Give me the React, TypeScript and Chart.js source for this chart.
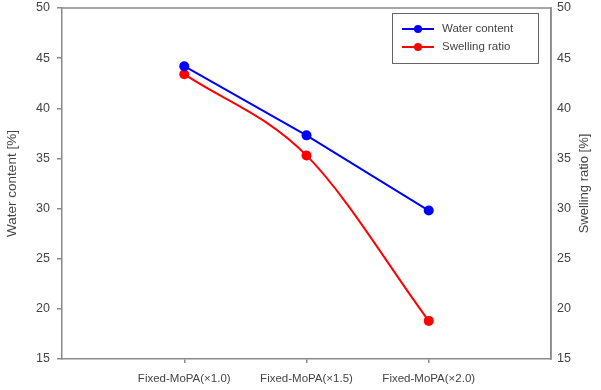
import React, { useEffect, useRef } from "react";
import { Chart, registerables } from "chart.js";

Chart.register(...registerables);

const categories = ["Fixed-MoPA(×1.0)", "Fixed-MoPA(×1.5)", "Fixed-MoPA(×2.0)"];
const waterContent = [44.2, 37.3, 29.8];
const swellingRatio = [43.4, 35.3, 18.8];
const yTicks = [15, 20, 25, 30, 35, 40, 45, 50];
const rightTitle = "Swelling ratio [%]";

const FONT = "'Liberation Sans', Arial, sans-serif";
const AXIS = "#8a8a8a";
const TXT = "#444";

const framePlugin = {
  id: "frame",
  afterDraw(chart: any) {
    const { ctx, chartArea: a } = chart;
    ctx.save();
    ctx.strokeStyle = AXIS;
    ctx.lineWidth = 1.5;
    ctx.beginPath();
    ctx.moveTo(a.left, a.top);
    ctx.lineTo(a.right, a.top);
    ctx.lineTo(a.right, a.bottom);
    ctx.stroke();

    // right axis title (reads bottom-to-top)
    ctx.save();
    ctx.translate(a.right + 33, (a.top + a.bottom) / 2);
    ctx.rotate(-Math.PI / 2);
    ctx.fillStyle = TXT;
    ctx.font = `13px ${FONT}`;
    ctx.textAlign = "center";
    ctx.textBaseline = "middle";
    ctx.fillText(rightTitle, 0, 0);
    ctx.restore();

    // legend
    const bx = a.right - 159;
    const by = a.top + 5;
    const bw = 146;
    const bh = 50;
    ctx.fillStyle = "#fff";
    ctx.fillRect(bx, by, bw, bh);
    ctx.strokeStyle = "#666";
    ctx.lineWidth = 1;
    ctx.strokeRect(bx + 0.5, by + 0.5, bw, bh);
    chart.data.datasets.forEach((ds: any, i: number) => {
      const y = by + 16 + i * 18;
      ctx.strokeStyle = ds.borderColor;
      ctx.lineWidth = 2;
      ctx.beginPath();
      ctx.moveTo(bx + 10, y);
      ctx.lineTo(bx + 42, y);
      ctx.stroke();
      ctx.fillStyle = ds.backgroundColor;
      ctx.beginPath();
      ctx.arc(bx + 26, y, 4, 0, Math.PI * 2);
      ctx.fill();
      ctx.fillStyle = TXT;
      ctx.font = `11.5px ${FONT}`;
      ctx.textBaseline = "middle";
      ctx.textAlign = "left";
      ctx.fillText(ds.label, bx + 50, y);
    });
    ctx.restore();
  },
};

export default function App() {
  const ref = useRef<HTMLCanvasElement>(null);
  useEffect(() => {
    document.body.style.margin = "0";
    const chart = new Chart(ref.current!, {
      type: "line",
      data: {
        datasets: [
          {
            label: "Water content",
            data: waterContent.map((v, i) => ({ x: i + 1, y: v })),
            borderColor: "#0000ff",
            backgroundColor: "#0000ff",
            borderWidth: 2,
            pointRadius: 5,
            pointBorderWidth: 0,
            tension: 0,
            yAxisID: "y",
          },
          {
            label: "Swelling ratio",
            data: swellingRatio.map((v, i) => ({ x: i + 1, y: v })),
            borderColor: "#ff0000",
            backgroundColor: "#ff0000",
            borderWidth: 2,
            pointRadius: 5,
            pointBorderWidth: 0,
            cubicInterpolationMode: "monotone",
            yAxisID: "y2",
          },
        ],
      },
      options: {
        responsive: false,
        animation: false,
        layout: { padding: { top: 0, left: 0, right: 0, bottom: 0 } },
        plugins: { legend: { display: false }, tooltip: { enabled: false } },
        scales: {
          x: {
            type: "linear",
            min: 0,
            max: 4,
            afterBuildTicks: (axis: any) => {
              axis.ticks = categories.map((_, i) => ({ value: i + 1 }));
            },
            afterFit: (s: any) => {
              s.height = 31;
            },
            ticks: {
              autoSkip: false,
              maxRotation: 0,
              padding: 9,
              color: TXT,
              font: { family: FONT, size: 11.5 },
              callback: (v: any) => categories[Number(v) - 1] ?? "",
            },
            grid: { drawOnChartArea: false, color: AXIS, tickLength: 4, lineWidth: 1.5 },
            border: { color: AXIS, width: 1.5 },
          },
          y: {
            position: "left",
            min: 15,
            max: 50,
            afterBuildTicks: (axis: any) => {
              axis.ticks = yTicks.map((v) => ({ value: v }));
            },
            afterFit: (s: any) => {
              s.width = 62;
              s.paddingTop = 8;
              s.paddingBottom = 0;
            },
            ticks: { color: TXT, padding: 7, font: { family: FONT, size: 12.5 } },
            grid: { drawOnChartArea: false, color: AXIS, tickLength: 5, lineWidth: 1.5 },
            border: { color: AXIS, width: 1.5 },
            title: {
              display: true,
              text: "Water content [%]",
              color: TXT,
              font: { family: FONT, size: 13.5 },
              padding: { top: 4, bottom: 0 },
            },
          },
          y2: {
            position: "right",
            min: 15,
            max: 50,
            afterBuildTicks: (axis: any) => {
              axis.ticks = yTicks.map((v) => ({ value: v }));
            },
            afterFit: (s: any) => {
              s.width = 50;
              s.paddingTop = 8;
              s.paddingBottom = 0;
            },
            ticks: { color: TXT, padding: 6, font: { family: FONT, size: 12.5 } },
            grid: { drawOnChartArea: false, drawTicks: false, color: AXIS },
            border: { color: AXIS, width: 1.5 },
          },
        },
      } as any,
      plugins: [framePlugin],
    });
    return () => chart.destroy();
  }, []);
  return (
    <div style={{ width: 601, height: 390 }}>
      <canvas ref={ref} width={601} height={390} style={{ display: "block" }} />
    </div>
  );
}
